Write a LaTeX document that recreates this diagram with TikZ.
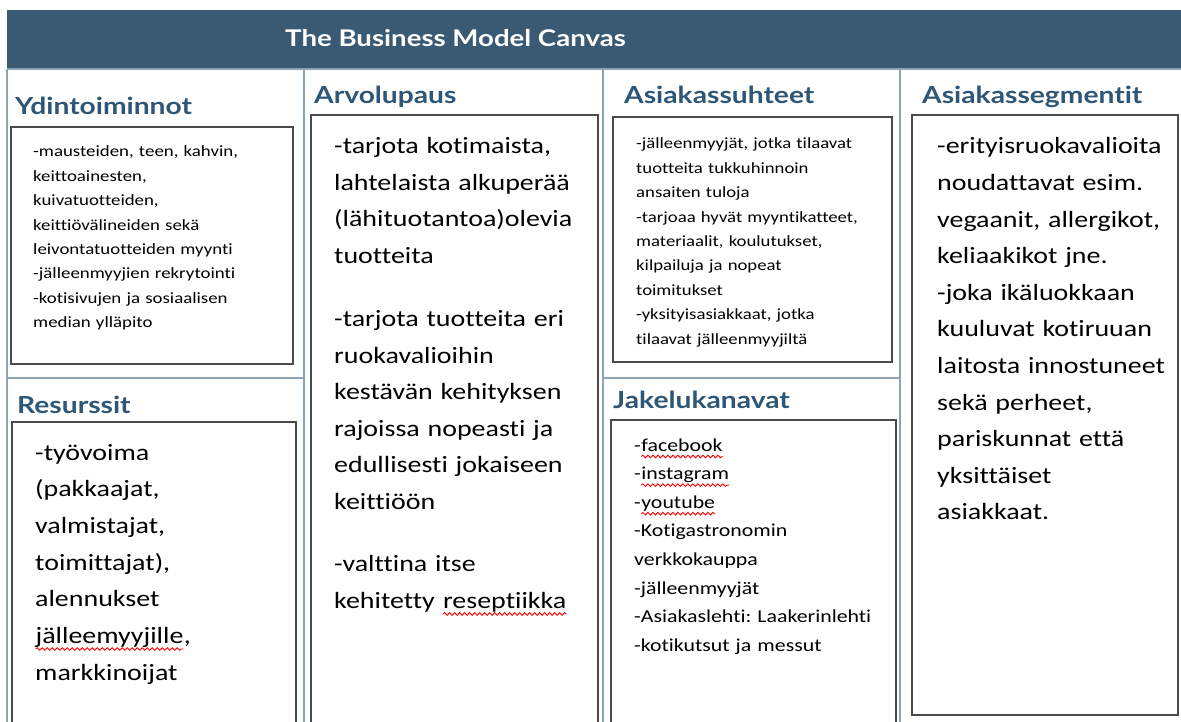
\documentclass[tikz,border=0pt]{standalone}
\usepackage{fontspec}
\setmainfont{Carlito}[FakeStretch=1.2, Ligatures=NoCommon]
\newfontfamily\headfont{Lato}[FakeStretch=1.2, Ligatures=NoCommon]
\usepackage{tikz}
\usetikzlibrary{decorations.pathmorphing}
\setlength{\parindent}{0pt}
\frenchspacing

\definecolor{canvasblue}{HTML}{3A5A74}
\definecolor{headblue}{HTML}{2E5676}
\definecolor{rulegray}{HTML}{8DA3B6}
\definecolor{boxgray}{HTML}{4A4A4A}

% red wavy underline for flagged words
\newcommand\typo[1]{\tikz[baseline=(w.base)]{%
  \node [inner sep=0pt, outer sep=0pt] (w) {#1};
  \draw [red, line width=0.9pt, decorate,
    decoration={snake, amplitude=1.3pt, segment length=5pt}]
    ([yshift=-5.5pt]w.base west) -- ([yshift=-5.5pt]w.base east);}}

\tikzset{
  panelrule/.style={draw=rulegray, line width=2.4pt},
  panelbox/.style={draw=boxgray, line width=1.6pt},
  heading/.style={anchor=base west, inner sep=0pt, text=headblue,
    font=\headfont\bfseries\fontsize{23.5}{28}\selectfont},
  entry/.style={anchor=base west, inner sep=0pt, align=left, text width=270pt},
}

\begin{document}
\begin{tikzpicture}[x=1pt, y=-1pt]
    \useasboundingbox (0,0) rectangle (1181,722);
    \fill [white] (0,0) rectangle (1181,722);

    % title bar
    \fill [canvasblue] (7,10) rectangle (1181,68);
    \node [heading, text=white, font=\headfont\bfseries\fontsize{23}{28}\selectfont]
      (title) at (285,47) {The Business Model Canvas};

    % column and row rules
    \draw [panelrule] (7,69) -- (1181,69);
    \draw [panelrule] (7,69) -- (7,722);
    \draw [panelrule] (304,69) -- (304,722);
    \draw [panelrule] (603,69) -- (603,722);
    \draw [panelrule] (900,69) -- (900,722);
    \draw [panelrule] (7,378) -- (304,378);
    \draw [panelrule] (603,378) -- (900,378);

    % inner boxes (open ones run off the bottom edge)
    \draw [panelbox] (11,127) rectangle (293,364);
    \draw [panelbox] (12,422) rectangle (296,740);
    \draw [panelbox] (311,115) rectangle (598,740);
    \draw [panelbox] (613,117) rectangle (892,362);
    \draw [panelbox] (611,420) rectangle (896,740);
    \draw [panelbox] (912,115) rectangle (1178,715);

    \node [heading] (ydin) at (15,115) {Ydintoiminnot};
    \node [entry, font=\fontsize{15.7}{24.4}\selectfont] (ydintext) at (33,157) {%
      -mausteiden, teen, kahvin,\\
      keittoainesten,\\
      kuivatuotteiden,\\
      keittiövälineiden sekä\\
      leivontatuotteiden myynti\\
      -jälleenmyyjien rekrytointi\\
      -kotisivujen ja sosiaalisen\\
      median ylläpito
    };

    \node [heading] (res) at (17,413) {Resurssit};
    \node [entry, font=\fontsize{23.3}{36.7}\selectfont] (restext) at (35,460) {%
      -työvoima\\
      (pakkaajat,\\
      valmistajat,\\
      toimittajat),\\
      alennukset\\
      \typo{jälleemyyjille},\\
      markkinoijat
    };

    \node [heading] (arvo) at (314,104) {Arvolupaus};
    \node [entry, font=\fontsize{23.3}{36.5}\selectfont] (arvotext) at (334,154) {%
      -tarjota kotimaista,\\
      lahtelaista alkuperää\\
      (lähituotantoa)olevia\\
      tuotteita\\[27pt]
      -tarjota tuotteita eri\\
      ruokavalioihin\\
      kestävän kehityksen\\
      rajoissa nopeasti ja\\
      edullisesti jokaiseen\\
      keittiöön\\[26pt]
      -valttina itse\\
      kehitetty \typo{reseptiikka}
    };

    \node [heading] (suhde) at (624,104) {Asiakassuhteet};
    \node [entry, font=\fontsize{15.6}{24.4}\selectfont] (suhdetext) at (636,149) {%
      -jälleenmyyjät, jotka tilaavat\\
      tuotteita tukkuhinnoin\\
      ansaiten tuloja\\
      -tarjoaa hyvät myyntikatteet,\\
      materiaalit, koulutukset,\\
      kilpailuja ja nopeat\\
      toimitukset\\
      -yksityisasiakkaat, jotka\\
      tilaavat jälleenmyyjiltä
    };

    \node [heading] (jakelu) at (613,408) {Jakelukanavat};
    \node [entry, font=\fontsize{18.2}{28.6}\selectfont] (jakelutext) at (634,451) {%
      -\typo{facebook}\\
      -\typo{instagram}\\
      -\typo{youtube}\\
      -Kotigastronomin\\
      verkkokauppa\\
      -jälleenmyyjät\\
      -Asiakaslehti: Laakerinlehti\\
      -kotikutsut ja messut
    };

    \node [heading] (segm) at (922,104) {Asiakassegmentit};
    \node [entry, text width=240pt, font=\fontsize{23.3}{36.6}\selectfont] (segmtext) at (937,154) {%
      -erityisruokavalioita\\
      noudattavat esim.\\
      vegaanit, allergikot,\\
      keliaakikot jne.\\
      -joka ikäluokkaan\\
      kuuluvat kotiruuan\\
      laitosta innostuneet\\
      sekä perheet,\\
      pariskunnat että\\
      yksittäiset\\
      asiakkaat.
    };
\end{tikzpicture}
\end{document}
